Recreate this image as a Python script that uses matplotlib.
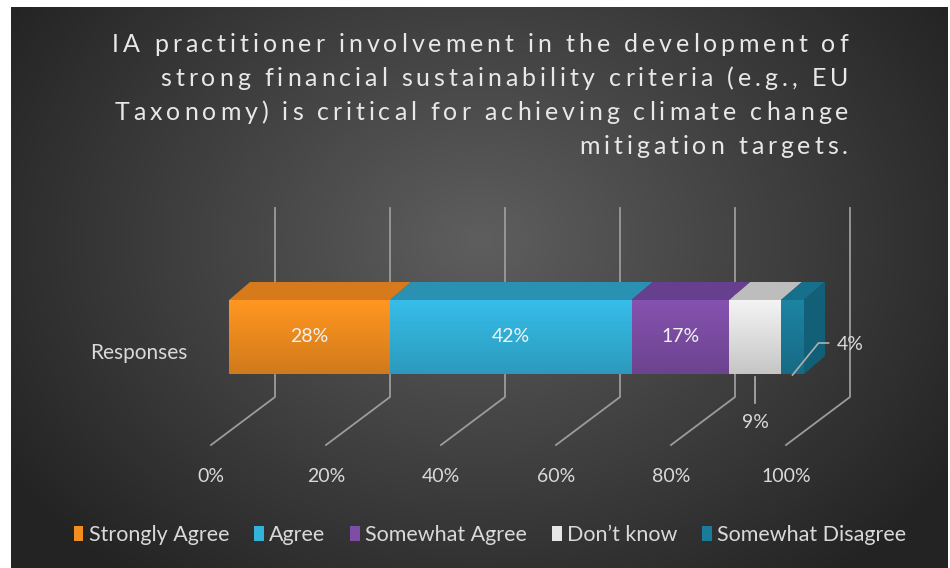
import numpy as np
import matplotlib
matplotlib.use("Agg")
import matplotlib.pyplot as plt
from matplotlib.patches import Polygon, Patch
from matplotlib.font_manager import FontProperties, findfont
from matplotlib.ft2font import FT2Font

# ---- data -------------------------------------------------------------
categories = ["Strongly Agree", "Agree", "Somewhat Agree", "Don\u2019t know", "Somewhat Disagree"]
shares = [28, 42, 17, 9, 4]
ticks = [0, 20, 40, 60, 80, 100]
tick_labels = ["0%", "20%", "40%", "60%", "80%", "100%"]
row_label = "Responses"
title_lines = [
    "IA practitioner involvement in the development of",
    "strong financial sustainability criteria (e.g., EU",
    "Taxonomy) is critical for achieving climate change",
    "mitigation targets.",
]

# ---- styling ------------------------------------------------------------
front_colors = ["#F28E1F", "#33B3DC", "#7E4EA6", "#E6E6E6", "#1B7C9A"]
top_colors = ["#D77A1B", "#2A91B3", "#66408F", "#BDBDBD", "#166F8B"]
side_color = "#125F78"
grid_color = "#9C9C9C"
text_color = "#D9D9D9"
FONT = "Lato"
DPI = 100

W, H = 950, 568
fig = plt.figure(figsize=(W / DPI, H / DPI), dpi=DPI)

# background: radial dark-grey gradient inside a white margin
bg = fig.add_axes([0, 0, 1, 1])
bg.set_axis_off()
yy, xx = np.mgrid[0:H, 0:W]
r = np.sqrt(((xx - 480) / 560.0) ** 2 + ((yy - 240) / 430.0) ** 2)
level = np.clip(0.37 - 0.23 * r, 0.14, 0.40)
img = np.dstack([level, level, level])
img[:7, :, :] = 1.0
img[:, :11, :] = 1.0
img[:, 948:, :] = 1.0
bg.imshow(img, extent=(0, W, H, 0), interpolation="bilinear", aspect="auto")
bg.set_xlim(0, W)
bg.set_ylim(H, 0)


def spaced_text(axis, x_right, y, s, size, family, color, tracking):
    """Right-aligned text with extra letter spacing (pixels)."""
    font = FT2Font(findfont(FontProperties(family=family)))
    font.set_size(size, DPI)
    adv = [font.load_char(ord(c)).linearHoriAdvance / 65536.0 for c in s]
    total = sum(adv) + tracking * (len(s) - 1)
    x = x_right - total
    for c, a in zip(s, adv):
        if c != " ":
            axis.text(x, y, c, ha="left", va="center", fontsize=size,
                      family=family, color=color)
        x += a + tracking


# title, right aligned with letter spacing
for i, line in enumerate(title_lines):
    spaced_text(bg, 848, 45 + 34 * i, line, 18, FONT, "#E8E8E8", 3.9)

# ---- plot area: x in percent, y in pixels from the top -----------------
x0_pix, x1_pix = 229, 804
ax = fig.add_axes([x0_pix / W, 0, (x1_pix - x0_pix) / W, 1])
ax.set_axis_off()
ax.patch.set_visible(False)
px = 100.0 / (x1_pix - x0_pix)          # percent per pixel

# oblique projection geometry (pixels)
bar_top, bar_bot = 300, 374
depth_dx, depth_dy = 21, 18
wall_dx, wall_top, wall_bot = 46, 208, 397
floor_dx, floor_dy = -64, 48

# gridlines on back wall and floor
for t in ticks:
    xb = t + wall_dx * px
    ax.plot([xb, xb, xb + floor_dx * px], [wall_top, wall_bot, wall_bot + floor_dy],
            color=grid_color, lw=1.3, clip_on=False, zorder=1)


def shaded(color, n=64, top=1.06, bottom=0.86):
    rgb = np.array(matplotlib.colors.to_rgb(color))
    f = np.linspace(top, bottom, n)[:, None]
    return np.clip(rgb[None, :] * f, 0, 1)[:, None, :]


# stacked 3D bar
lefts = np.concatenate([[0], np.cumsum(shares)[:-1]])
for i, (left, val) in enumerate(zip(lefts, shares)):
    right = left + val
    top = Polygon([(left, bar_top), (right, bar_top),
                   (right + depth_dx * px, bar_top - depth_dy),
                   (left + depth_dx * px, bar_top - depth_dy)],
                  closed=True, facecolor=top_colors[i], edgecolor="none",
                  clip_on=False, zorder=3)
    ax.add_patch(top)
    face = ax.imshow(shaded(front_colors[i]), extent=(left, right, bar_bot, bar_top),
                     aspect="auto", interpolation="bilinear", zorder=4)
    face.set_clip_on(False)
end = lefts[-1] + shares[-1]
side = Polygon([(end, bar_top), (end + depth_dx * px, bar_top - depth_dy),
                (end + depth_dx * px, bar_bot - depth_dy), (end, bar_bot)],
               closed=True, facecolor=side_color, edgecolor="none", clip_on=False, zorder=3)
ax.add_patch(side)

# value labels
mid_y = (bar_top + bar_bot) / 2
for i in range(3):
    ax.text(lefts[i] + shares[i] / 2, mid_y, f"{shares[i]}%", ha="center", va="center",
            fontsize=14, color="#F2F2F2", family=FONT, zorder=5)

c3 = lefts[3] + shares[3] / 2
ax.plot([c3, c3], [bar_bot + 3, bar_bot + 29], color="#B0B0B0", lw=1.2, clip_on=False, zorder=5)
ax.text(c3, 423, f"{shares[3]}%", ha="center", va="center", fontsize=14,
        color=text_color, family=FONT, zorder=5)

c4 = lefts[4] + shares[4] / 2
ax.plot([c4, c4 + 26 * px, c4 + 36 * px], [bar_bot + 1, 343, 343],
        color="#B0B0B0", lw=1.2, clip_on=False, zorder=5)
ax.text(c4 + 44 * px, 345, f"{shares[4]}%", ha="left", va="center", fontsize=14,
        color=text_color, family=FONT, zorder=5)

# category label
ax.text(-41 * px, 353, row_label, ha="right", va="center", fontsize=15,
        color=text_color, family=FONT)

# value-axis tick labels at the front edge of the floor
for t, lab in zip(ticks, tick_labels):
    ax.text(t - 18 * px, 477, lab, ha="center", va="center", fontsize=14,
            color=text_color, family=FONT)

ax.set_xlim(0, 100)
ax.set_ylim(H, 0)

# legend
handles = [Patch(facecolor=c, edgecolor="none") for c in front_colors]
fig.legend(handles, categories, loc="center", bbox_to_anchor=(490 / W, 1 - 535 / H),
           ncol=5, frameon=False, prop={"family": FONT, "size": 15.5}, labelcolor=text_color,
           handlelength=0.45, handleheight=0.7, handletextpad=0.25, columnspacing=1.15)

fig.savefig("out.png", dpi=DPI)
